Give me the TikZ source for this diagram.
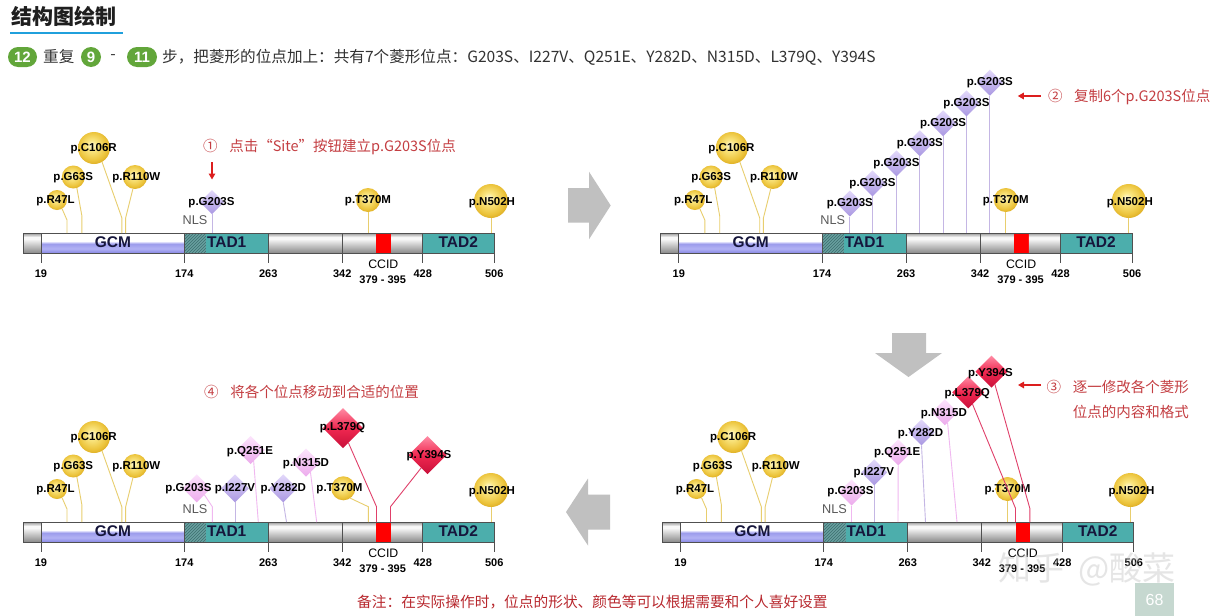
\documentclass[tikz,border=0pt]{standalone}
\usepackage{fontspec}
\setmainfont{Liberation Sans}
\newfontfamily\cjk{Noto Sans CJK SC}
\usetikzlibrary{shapes.geometric,patterns,arrows.meta}

\definecolor{cylbot}{RGB}{138,138,138}
\definecolor{cylmid}{RGB}{200,200,200}
\definecolor{cylhi}{RGB}{248,248,248}
\definecolor{cyltop}{RGB}{150,150,150}
\definecolor{gcmA}{RGB}{136,136,228}
\definecolor{gcmB}{RGB}{178,178,244}
\definecolor{gcmC}{RGB}{156,156,236}
\definecolor{gcmD}{RGB}{214,214,250}
\definecolor{tealc}{RGB}{76,174,172}
\definecolor{nlsbase}{RGB}{104,160,160}
\definecolor{nlsline}{RGB}{60,110,110}
\definecolor{barcol}{RGB}{80,80,80}
\definecolor{domtext}{RGB}{22,22,60}
\definecolor{gA}{RGB}{255,250,220}
\definecolor{gB}{RGB}{250,230,130}
\definecolor{gC}{RGB}{236,196,60}
\definecolor{gD}{RGB}{222,174,36}
\definecolor{goldstem}{RGB}{232,206,110}
\definecolor{purA}{RGB}{226,216,250}
\definecolor{purB}{RGB}{170,152,226}
\definecolor{purstem}{RGB}{196,182,228}
\definecolor{pinkA}{RGB}{252,228,252}
\definecolor{pinkB}{RGB}{236,170,236}
\definecolor{pinkstem}{RGB}{240,184,240}
\definecolor{redA}{RGB}{255,140,165}
\definecolor{redB}{RGB}{240,40,80}
\definecolor{redC}{RGB}{200,16,58}
\definecolor{redstem}{RGB}{224,64,106}
\definecolor{annoc}{RGB}{196,62,66}
\definecolor{annoarrow}{RGB}{220,30,30}
\definecolor{garrow}{RGB}{192,192,192}
\definecolor{pillc}{RGB}{98,166,58}
\definecolor{titleline}{RGB}{32,160,220}
\definecolor{notec}{RGB}{184,40,46}
\definecolor{pagebox}{RGB}{198,216,208}
\definecolor{txt}{RGB}{50,50,50}

\pgfdeclareverticalshading{cyl}{100bp}{color(0bp)=(cylbot); color(25bp)=(cylbot); color(45bp)=(cylmid); color(60bp)=(cylhi); color(65bp)=(cylhi); color(75bp)=(cyltop); color(100bp)=(cyltop)}
\pgfdeclareverticalshading{gcmsh}{100bp}{color(0bp)=(gcmA); color(25bp)=(gcmA); color(36bp)=(gcmB); color(48bp)=(gcmC); color(52bp)=(gcmD); color(55bp)=(white); color(100bp)=(white)}
\pgfdeclareradialshading{goldball}{\pgfpoint{-4bp}{5bp}}{color(0bp)=(gA); color(8bp)=(gB); color(22bp)=(gC); color(28bp)=(gD); color(50bp)=(gD)}

\tikzset{
  mut/.style={font=\fontsize{11.5}{12}\selectfont\bfseries, inner sep=0pt, text=black},
  ticklab/.style={font=\fontsize{11}{12}\selectfont\bfseries, inner sep=0pt},
  domlab/.style={font=\fontsize{15.5}{16}\selectfont\bfseries, text=domtext, inner sep=0pt},
  nlslab/.style={font=\fontsize{12.7}{14}\selectfont, text=black!65, inner sep=0pt},
  ccidlab/.style={font=\fontsize{12.3}{14}\selectfont, inner sep=0pt},
  gball/.style={circle, shading=goldball, inner sep=0pt, outer sep=0pt, minimum size=#1},
  dpur/.style={diamond, aspect=1, inner sep=0pt, outer sep=0pt, minimum size=#1, top color=purA, bottom color=purB},
  dpink/.style={diamond, aspect=1, inner sep=0pt, outer sep=0pt, minimum size=#1, top color=pinkA, bottom color=pinkB},
  dred/.style={diamond, aspect=1, inner sep=0pt, outer sep=0pt, minimum size=#1, top color=redA, bottom color=redC, middle color=redB},
  gstem/.style={draw=goldstem, line width=0.9pt},
  pstem/.style={draw=purstem, line width=0.9pt},
  kstem/.style={draw=pinkstem, line width=0.9pt},
  rstem/.style={draw=redstem, line width=0.9pt},
  barstroke/.style={draw=barcol, line width=0.8pt},
  anno/.style={font=\cjk\fontsize{14.5}{16}\selectfont, text=annoc, inner sep=0pt},
  annoarr/.style={draw=annoarrow, line width=1.3pt, -{Triangle[length=6pt,width=6.5pt]}},
  line2/.style={font=\cjk\fontsize{15.6}{17}\selectfont, text=txt, inner sep=0pt},
  pillst/.style={fill=pillc, rounded corners=10pt, minimum height=20pt, inner sep=0pt, text=white, font=\fontsize{15}{16}\selectfont\bfseries},
}

\newcommand\ProtBar{%
  \shade[shading=cyl] (23,233) rectangle (41,253);
  \shade[shading=gcmsh] (41,233) rectangle (184.3,253);
  \fill[nlsbase] (184.3,233) rectangle (206,253);
  \fill[pattern=north east lines, pattern color=nlsline] (184.3,233) rectangle (206,253);
  \fill[tealc] (206,233) rectangle (268.3,253);
  \shade[shading=cyl] (268.3,233) rectangle (342.3,253);
  \shade[shading=cyl] (342.3,233) rectangle (376,253);
  \fill[red] (376,233) rectangle (391,253);
  \shade[shading=cyl] (391,233) rectangle (422.7,253);
  \fill[tealc] (422.7,233) rectangle (494.3,253);
  \draw[barstroke] (23,233) rectangle (494.3,253);
  \foreach \x/\n in {41/19,184.3/174,268.3/263,342.3/342,422.7/428,494.3/506}{
    \draw[barstroke] (\x,233) -- (\x,263);
    \node[ticklab] (t\n) at (\x,274) {\n};
  }
  \node[ccidlab] (ccid) at (383.3,264) {CCID};
  \node[ticklab] (ccidr) at (382.7,279.5) {379 - 395};
  \node[domlab] (gcm) at (113,242.5) {GCM};
  \node[domlab] (tad1) at (226.7,242.5) {TAD1};
  \node[domlab] (tad2) at (458.3,242.5) {TAD2};
  \node[nlslab] (nls) at (195,220) {NLS};
}

\newcommand\Lollis{%
  \coordinate (s47) at (67,233);
  \coordinate (s63) at (81.9,233);
  \coordinate (s106) at (121.9,233);
  \coordinate (s110) at (125.6,233);
  \coordinate (s502) at (491,233);
  \node[gball=20pt] (b47) at (57,200) {};
  \node[gball=23pt] (b63) at (73.3,177) {};
  \node[gball=32pt] (b106) at (94,148) {};
  \node[gball=24pt] (b110) at (135,177) {};
  \node[gball=34pt] (b502) at (491,201) {};
  \draw[gstem] (b47.-60) -- (67,220) -- (s47);
  \draw[gstem] (b63.-72) -- (81.9,216) -- (s63);
  \draw[gstem] (b106.-60) -- (121.9,218) -- (s106);
  \draw[gstem] (b110.-100) -- (125.6,218) -- (s110);
  \draw[gstem] (b502.south) -- (s502);
  \node[mut] (m47) at (55.5,200.5) {p.R47L};
  \node[mut] (m63) at (73.3,177.3) {p.G63S};
  \node[mut] (m106) at (93.7,148.3) {p.C106R};
  \node[mut] (m110) at (136.3,177.3) {p.R110W};
  \node[mut] (m502) at (492,202.5) {p.N502H};
}

\begin{document}
\begin{tikzpicture}[x=1pt,y=-1pt]
\useasboundingbox (0,0) rectangle (1224,616);
\fill[white] (0,0) rectangle (1224,616);

% header
\node[anchor=west, font=\cjk\bfseries\fontsize{21}{24}\selectfont, text=black!88, inner sep=0pt] (title) at (11,16) {结构图绘制};
\draw[titleline, line width=2.5pt] (10,33) -- (123,33);
\node[pillst, minimum width=29pt] (n12) at (22.5,57) {12};
\node[line2, anchor=west] (rep) at (43,57) {重复};
\node[pillst, minimum width=20pt] (n9) at (91,57) {9};
\node[line2] (dash) at (113,57) {-};
\node[pillst, minimum width=30pt] (n11) at (142,57) {11};
\node[line2, anchor=west] (rest) at (162,57) {步，把菱形的位点加上：共有7个菱形位点：G203S、I227V、Q251E、Y282D、N315D、L379Q、Y394S};

% panel 1
\begin{scope}[name prefix=P1-]
  \ProtBar
  \Lollis
  \coordinate (s370) at (368,233);
  \node[gball=24pt] (b370) at (368,200) {};
  \draw[gstem] (b370.south) -- (s370);
  \node[mut] (m370) at (368,200.5) {p.T370M};
  \coordinate (s1) at (212,233);
  \node[dpur=24pt] (d1) at (212,202) {};
  \draw[pstem] (d1.south) -- (s1);
  \node[mut] (l1) at (211.5,203) {p.G203S};
  \node[anno, anchor=west] (a1) at (203,147) {①\hspace{0.8em}点击“Site”按钮建立p.G203S位点};
  \coordinate (a1s) at (212,162);
  \coordinate (a1e) at (212,179.5);
  \draw[annoarr] (a1s) -- (a1e);
\end{scope}

% panel 2
\begin{scope}[shift={(637.8,0)}, name prefix=P2-]
  \ProtBar
  \Lollis
  \coordinate (s370) at (368,233);
  \node[gball=24pt] (b370) at (368,200) {};
  \draw[gstem] (b370.south) -- (s370);
  \node[mut] (m370) at (368,200.5) {p.T370M};
  \foreach \i/\x/\y in {1/212/203.5,2/234.7/183.3,3/258.7/163.3,4/282/143.3,5/305.3/123.3,6/328.7/103.3,7/352/82.7}{
    \coordinate (s\i) at (\x,233);
    \node[dpur=26pt] (d\i) at (\x,\y) {};
    \draw[pstem] (d\i.south) -- (s\i);
  }
  \foreach \i/\x/\y in {1/212/203.5,2/234.7/183.3,3/258.7/163.3,4/282/143.3,5/305.3/123.3,6/328.7/103.3,7/352/82.7}{
    \node[mut] (l\i) at (\x,\y) {p.G203S};
  }
  \node[anno, anchor=west] (a2) at (410,97.5) {②\hspace{0.8em}复制6个p.G203S位点};
  \coordinate (a2s) at (403,96);
  \coordinate (a2e) at (380,96);
  \draw[annoarr] (a2s) -- (a2e);
\end{scope}

% panel 3
\begin{scope}[shift={(0,289)}, name prefix=P3-]
  \ProtBar
  \Lollis
  \coordinate (s370) at (368.3,233);
  \node[gball=24pt] (b370) at (343.3,199.3) {};
  \draw[gstem] (b370.-55) -- (368.3,217.7) -- (s370);
  \coordinate (s1) at (212.3,233);
  \coordinate (s2) at (235,233);
  \coordinate (s3) at (258.3,233);
  \coordinate (s4) at (286.5,233);
  \coordinate (s5) at (316.7,233);
  \coordinate (s6) at (376.5,233);
  \coordinate (s7) at (390.5,233);
  \node[dpink=28pt] (d1) at (196.7,199.3) {};
  \node[dpur=28pt] (d2) at (235,199.3) {};
  \node[dpink=28pt] (d3) at (250.7,161) {};
  \node[dpur=28pt] (d4) at (283.3,199.3) {};
  \node[dpink=28pt] (d5) at (306,173.7) {};
  \node[dred=40pt] (d6) at (343,139) {};
  \node[dred=38pt] (d7) at (427.5,166) {};
  \draw[kstem] (d1.-40) -- (212.3,217.7) -- (s1);
  \draw[pstem] (d2.south) -- (s2);
  \draw[kstem] (d3.-75) -- (s3);
  \draw[pstem] (d4.south) -- (s4);
  \draw[kstem] (d5.-65) -- (s5);
  \draw[rstem] (d6.-70) -- (376.5,217.7) -- (s6);
  \draw[rstem] (d7.-116) -- (390.5,217.7) -- (s7);
  \node[mut] (m370) at (339.5,199.3) {p.T370M};
  \node[mut] (l1) at (188.5,199.3) {p.G203S};
  \node[mut] (l2) at (235,199.3) {p.I227V};
  \node[mut] (l3) at (250,162.7) {p.Q251E};
  \node[mut] (l4) at (283.3,199.3) {p.Y282D};
  \node[mut] (l5) at (306,174.3) {p.N315D};
  \node[mut] (l6) at (342.5,138.3) {p.L379Q};
  \node[mut] (l7) at (429,167) {p.Y394S};
  \node[anno, anchor=west] (a4) at (204,102.5) {④\hspace{0.8em}将各个位点移动到合适的位置};
\end{scope}

% panel 4
\begin{scope}[shift={(639.5,289)}, name prefix=P4-]
  \ProtBar
  \Lollis
  \coordinate (s370) at (368,233);
  \node[gball=24pt] (b370) at (368,200) {};
  \draw[gstem] (b370.south) -- (s370);
  \node[mut] (m370) at (368,200.5) {p.T370M};
  \coordinate (s1) at (212,233);
  \coordinate (s2) at (234.7,233);
  \coordinate (s3) at (258.5,233);
  \coordinate (s4) at (286,233);
  \coordinate (s5) at (317.5,233);
  \coordinate (s6) at (376,233);
  \coordinate (s7) at (390.3,233);
  \node[dpink=26pt] (d1) at (212,203.5) {};
  \node[dpur=26pt] (d2) at (234.7,183.3) {};
  \node[dpink=26pt] (d3) at (258.7,163.3) {};
  \node[dpur=26pt] (d4) at (282,143.3) {};
  \node[dpink=26pt] (d5) at (305.3,123.3) {};
  \node[dred=32pt] (d6) at (328.7,103.3) {};
  \node[dred=32pt] (d7) at (352,82.7) {};
  \draw[kstem] (d1.south) -- (s1);
  \draw[pstem] (d2.south) -- (s2);
  \draw[kstem] (d3.south) -- (s3);
  \draw[pstem] (d4.south) -- (s4);
  \draw[kstem] (d5.-75) -- (s5);
  \draw[rstem] (d6.-70) -- (376,219.3) -- (s6);
  \draw[rstem] (d7.-75) -- (390.3,219.3) -- (s7);
  \node[mut] (l1) at (211,202.7) {p.G203S};
  \node[mut] (l2) at (234.3,183.7) {p.I227V};
  \node[mut] (l3) at (257.7,163.7) {p.Q251E};
  \node[mut] (l4) at (281,144.3) {p.Y282D};
  \node[mut] (l5) at (304.3,124.3) {p.N315D};
  \node[mut] (l6) at (327.7,104.3) {p.L379Q};
  \node[mut] (l7) at (351,84.3) {p.Y394S};
  \node[anno, anchor=east] (a3) at (549.5,97.5) {③\hspace{0.8em}逐一修改各个菱形};
  \node[anno, anchor=east] (a3b) at (549.5,122.5) {位点的内容和格式};
  \coordinate (a3s) at (401.5,96);
  \coordinate (a3e) at (378.5,96);
  \draw[annoarr] (a3s) -- (a3e);
\end{scope}

% grey flow arrows
\fill[garrow] (568,188) -- (589,188) -- (589,171.7) -- (610.7,205.5) -- (589,239.3) -- (589,222.7) -- (568,222.7) -- cycle;
\fill[garrow] (892,333) -- (926,333) -- (926,353) -- (942,353) -- (908.5,377) -- (875,353) -- (892,353) -- cycle;
\fill[garrow] (610,494.5) -- (588,494.5) -- (588,478.5) -- (566,512) -- (588,545.5) -- (588,529.5) -- (610,529.5) -- cycle;

% footer
\node[anchor=west, font=\cjk\fontsize{14.7}{16}\selectfont, text=notec, inner sep=0pt] (foot) at (357,602) {备注：在实际操作时，位点的形状、颜色等可以根据需要和个人喜好设置};
\node[fill=pagebox, minimum width=39pt, minimum height=33pt, inner sep=0pt, text=white, font=\fontsize{16}{18}\selectfont] (page) at (1154.5,599.6) {68};

% watermark
\node[anchor=west, font=\cjk\fontsize{33}{35}\selectfont, text=gray!50, opacity=0.4, inner sep=0pt] (wm) at (998,569) {知乎\hspace{14pt}@酸菜};
\end{tikzpicture}
\end{document}
